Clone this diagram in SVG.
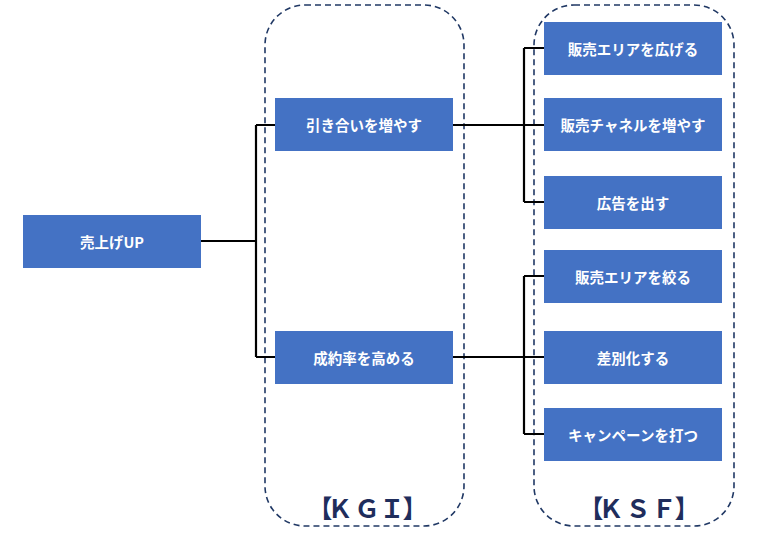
<svg xmlns="http://www.w3.org/2000/svg" width="772" height="536" viewBox="0 0 772 536">
<style>
.box{fill:#4472C4;}
.t{fill:#fff;font-family:"Noto Sans CJK JP","Noto Sans",sans-serif;font-weight:bold;font-size:14.5px;text-anchor:middle;dominant-baseline:central;}
.frame{fill:none;stroke:#203864;stroke-width:1.6;stroke-dasharray:6 4;}
.lbl{fill:#1F2D5C;font-family:"Noto Sans CJK JP","Noto Sans",sans-serif;font-weight:bold;font-size:25px;text-anchor:middle;}
.c{fill:none;stroke:#000;stroke-width:2.2;}
</style>
<rect width="772" height="536" fill="#fff"/>
<g id="frame-kgi"><rect class="frame" x="265" y="5" width="199" height="521" rx="40"/><text class="lbl" x="320 340 367 392 415" y="518">【ＫＧＩ】</text></g>
<g id="frame-ksf"><rect class="frame" x="534" y="5" width="200" height="521" rx="40"/><text class="lbl" x="591 611 638 664 687" y="518">【ＫＳＦ】</text></g>
<g id="connectors">
<path class="c" d="M201 241H256M256 125V357M256 125H275M256 357H275"/>
<path class="c" d="M453 125H544M524 48V202M524 48H544M524 202H544"/>
<path class="c" d="M453 357H544M524 276V434M524 276H544M524 434H544"/>
</g>
<g id="n-root"><rect class="box" x="23" y="215" width="178" height="53"/><text class="t" x="112" y="241.5">売上げUP</text></g>
<g id="n-kgi1"><rect class="box" x="275" y="98" width="178" height="53"/><text class="t" x="364" y="124.5">引き合いを増やす</text></g>
<g id="n-kgi2"><rect class="box" x="275" y="331" width="178" height="53"/><text class="t" x="364" y="357.5">成約率を高める</text></g>
<g id="n-ksf1"><rect class="box" x="544" y="22" width="178" height="53"/><text class="t" x="633" y="48.5">販売エリアを広げる</text></g>
<g id="n-ksf2"><rect class="box" x="544" y="98" width="178" height="53"/><text class="t" x="633" y="124.5">販売チャネルを増やす</text></g>
<g id="n-ksf3"><rect class="box" x="544" y="176" width="178" height="53"/><text class="t" x="633" y="202.5">広告を出す</text></g>
<g id="n-ksf4"><rect class="box" x="544" y="250" width="178" height="53"/><text class="t" x="633" y="276.5">販売エリアを絞る</text></g>
<g id="n-ksf5"><rect class="box" x="544" y="331" width="178" height="53"/><text class="t" x="633" y="357.5">差別化する</text></g>
<g id="n-ksf6"><rect class="box" x="544" y="408" width="178" height="53"/><text class="t" x="633" y="434.5">キャンペーンを打つ</text></g>
</svg>
